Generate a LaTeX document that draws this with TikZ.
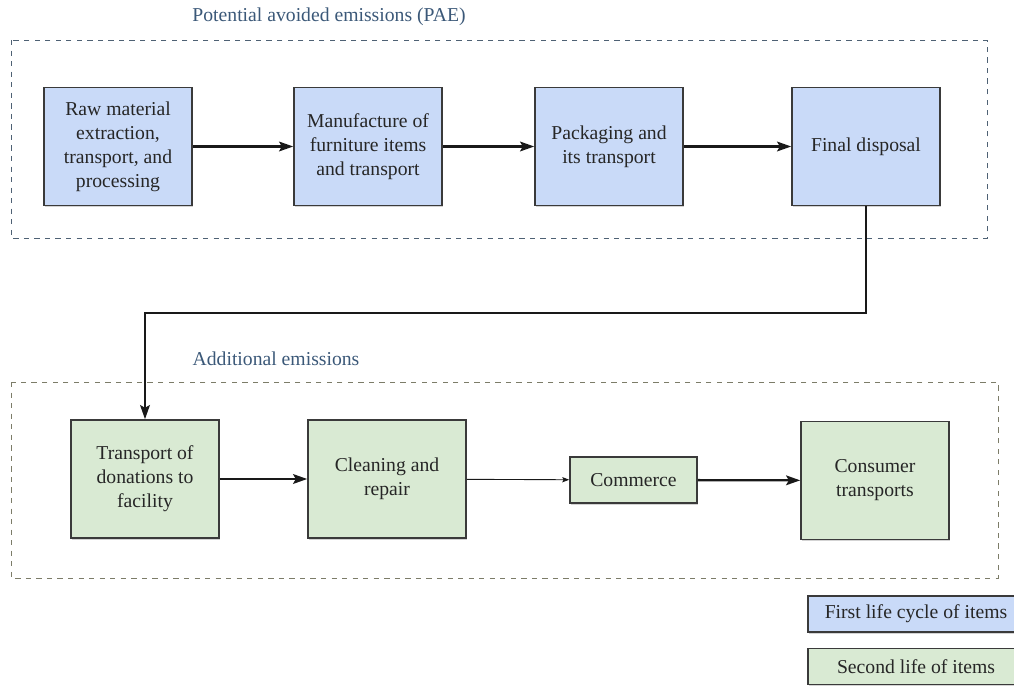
\documentclass[tikz,border=0pt]{standalone}
\usepackage{fontspec}
\setmainfont{Liberation Serif}
\usetikzlibrary{arrows.meta,shadows}
\definecolor{firstfill}{HTML}{C9DAF8}
\definecolor{secondfill}{HTML}{D9EAD3}
\definecolor{boxline}{HTML}{3A3A3A}
\definecolor{titleblue}{HTML}{3B5878}
\definecolor{frameblue}{HTML}{4E6174}
\definecolor{framegreen}{HTML}{7C7C68}
\begin{document}
\begin{tikzpicture}[x=0.02cm, y=-0.02cm,
  every node/.style={font=\fontsize{11.2}{13.6}\selectfont, text=black!85},
  stage/.style={draw=boxline, line width=0.9pt, align=center, inner sep=2pt,
    minimum width=2.96cm, minimum height=2.36cm,
    drop shadow={shadow xshift=0.8pt, shadow yshift=-0.9pt, opacity=0.35}},
  first/.style={stage, fill=firstfill},
  second/.style={stage, fill=secondfill},
  legendbox/.style={draw=boxline, line width=0.9pt, inner sep=0pt,
    minimum width=4.32cm, minimum height=0.72cm,
    drop shadow={shadow xshift=0.8pt, shadow yshift=-0.9pt, opacity=0.35}},
  flow/.style={line width=1.3pt, draw=black!90,
    -{Stealth[length=8pt, width=5.5pt, inset=1.5pt]}},
  thinflow/.style={line width=0.5pt, draw=black!90,
    -{Stealth[length=4pt, width=3pt, inset=0.8pt]}},
  grouptitle/.style={text=titleblue}]
  \useasboundingbox (0,0) rectangle (1014,686);
  \draw[frameblue, dashed, line width=0.5pt] (11,40) rectangle (987,238);
  \draw[framegreen, dashed, line width=0.5pt] (11,382) rectangle (998,578);
  \node[grouptitle] (paetitle) at (329,17) {Potential avoided emissions (PAE)};
  \node[grouptitle] (addtitle) at (276,359) {Additional emissions};
  \node[first] (raw) at (118,146.5) {Raw material\\extraction,\\transport, and\\processing};
  \node[first] (manuf) at (368,146.5) {Manufacture of\\furniture items\\and transport};
  \node[first] (pack) at (609,146.5) {Packaging and\\its transport};
  \node[first] (disp) at (866,146.5) {Final disposal};
  \node[second] (donat) at (145,479) {Transport of\\donations to\\facility};
  \node[second, minimum width=3.16cm] (clean) at (387,479) {Cleaning and\\repair};
  \node[second, minimum width=2.54cm, minimum height=0.92cm] (comm) at (633.5,480) {Commerce};
  \node[second] (cons) at (875,480.5) {Consumer\\transports};
  \coordinate (bend) at (500,313);
  \draw[flow] (raw) -- (manuf);
  \draw[flow] (manuf) -- (pack);
  \draw[flow] (pack) -- (disp);
  \draw[flow] (disp.south) |- (bend) -| (donat.north);
  \draw[flow] (donat) -- (clean);
  \draw[thinflow] (clean) -- (comm);
  \draw[flow] (comm) -- (cons);
  \node[legendbox, fill=firstfill] (legfirst) at (916,614) {First life cycle of items};
  \node[legendbox, fill=secondfill] (legsecond) at (916,666.5) {Second life of items};
\end{tikzpicture}
\end{document}
